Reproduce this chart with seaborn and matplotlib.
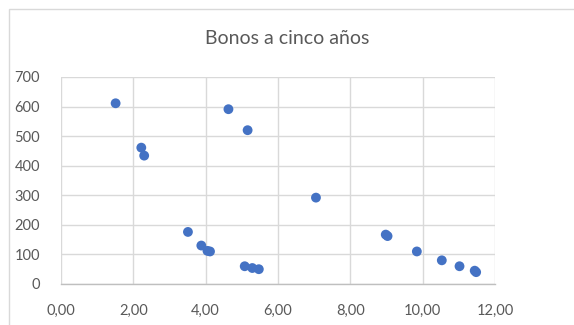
import matplotlib
matplotlib.use("Agg")
import matplotlib.pyplot as plt
from matplotlib.patches import Rectangle
from matplotlib.ticker import FuncFormatter, MultipleLocator
import seaborn as sns
import pandas as pd

# Plazo (años) y diferencial de los bonos a cinco años
plazo = [1.51, 2.22, 2.30, 3.51, 3.88, 4.05, 4.12, 4.63, 5.16, 5.08, 5.29, 5.47,
         7.05, 8.98, 9.03, 9.84, 10.53, 11.02, 11.44, 11.48]
diferencial = [611, 461, 434, 176, 130, 112, 110, 591, 520, 60, 54, 50,
               292, 167, 162, 110, 80, 60, 45, 40]

df = pd.DataFrame({"plazo": plazo, "diferencial": diferencial})

sns.set_theme(style="white")
plt.rcParams["font.family"] = ["Lato", "DejaVu Sans"]

fig = plt.figure(figsize=(5.74, 3.25), dpi=100)
ax = fig.add_axes([0.1063, 0.1262, 0.756, 0.637])

sns.scatterplot(data=df, x="plazo", y="diferencial", ax=ax, color="#4472C4",
                s=50, edgecolor="none", zorder=3)

ax.set_xlim(0, 12)
ax.set_ylim(0, 700)
ax.xaxis.set_major_locator(MultipleLocator(2))
ax.yaxis.set_major_locator(MultipleLocator(100))
ax.xaxis.set_major_formatter(FuncFormatter(lambda v, p: f"{v:.2f}".replace(".", ",")))
ax.yaxis.set_major_formatter(FuncFormatter(lambda v, p: f"{int(v)}"))

ax.grid(True, color="#d9d9d9", linewidth=1.0)
ax.set_axisbelow(True)
for side in ["top", "right", "left"]:
    ax.spines[side].set_visible(False)
ax.spines["bottom"].set_color("#bfbfbf")
ax.spines["bottom"].set_linewidth(1.0)

ax.tick_params(axis="both", which="both", length=0, labelsize=10.5,
               labelcolor="#595959")
ax.tick_params(axis="x", pad=14)
ax.tick_params(axis="y", pad=15)
ax.set_xlabel("")
ax.set_ylabel("")

fig.text(0.5, 0.883, "Bonos a cinco años", ha="center", va="center",
         fontsize=14, color="#595959")

fig.patches.append(Rectangle((9 / 574, -0.01), 1.0, 1 - 9 / 325 + 0.01,
                             transform=fig.transFigure, fill=False,
                             edgecolor="#d9d9d9", linewidth=1.0))

fig.savefig("out.png", dpi=100)
